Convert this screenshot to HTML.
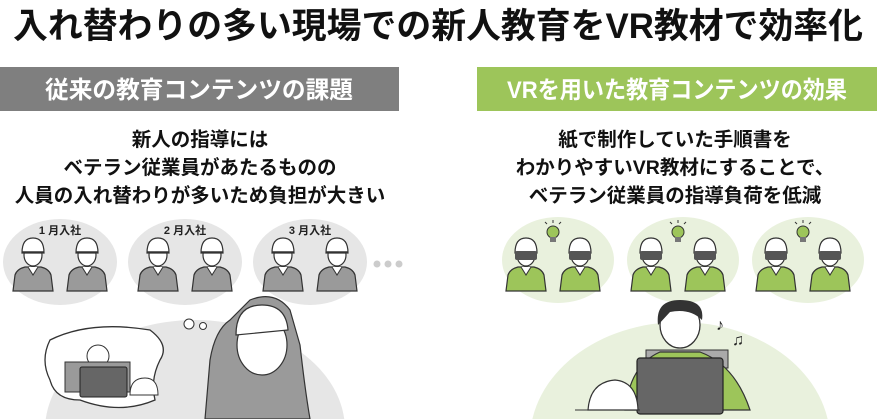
<!DOCTYPE html>
<html><head><meta charset="utf-8"><style>
html,body{margin:0;padding:0;background:#fff;width:877px;height:419px;overflow:hidden}
svg{display:block}
text{font-family:"Liberation Sans","Noto Sans CJK JP",sans-serif;font-weight:bold}
</style></head><body>
<svg width="877" height="419" viewBox="0 0 877 419" xmlns="http://www.w3.org/2000/svg">
<defs>
<g id="pg">
 <path d="M-20,36 L-18,20 Q-16,14 -8,12 L8,12 Q16,14 18,20 L20,36 Z" fill="#9a9a9a" stroke="#333" stroke-width="1.2"/>
 <path d="M-5,12 L0,20 L5,12" fill="#fff" stroke="#333" stroke-width="1"/>
 <ellipse cx="0" cy="0" rx="9" ry="11" fill="#fff" stroke="#333" stroke-width="1.2"/>
 <path d="M-11,-2 Q-11,-17 0,-17 Q11,-17 11,-2 Z" fill="#fff" stroke="#333" stroke-width="1.2"/>
 <line x1="-11" y1="-3" x2="11" y2="-3" stroke="#333" stroke-width="1.5"/>
</g>
<g id="pv">
 <path d="M-20,36 L-18,20 Q-16,14 -8,12 L8,12 Q16,14 18,20 L20,36 Z" fill="#9dc55a" stroke="#333" stroke-width="1.2"/>
 <path d="M-5,12 L0,20 L5,12" fill="#fff" stroke="#333" stroke-width="1"/>
 <ellipse cx="0" cy="0" rx="9" ry="11" fill="#fff" stroke="#333" stroke-width="1.2"/>
 <path d="M-11,-2 Q-11,-17 0,-17 Q11,-17 11,-2 Z" fill="#fff" stroke="#333" stroke-width="1.2"/>
 <rect x="-11" y="-4" width="22" height="9" rx="2" fill="#555"/>
</g>
<g id="bulb">
 <circle cx="0" cy="0" r="6" fill="#9dc55a" stroke="#333" stroke-width="1"/>
 <rect x="-3" y="5" width="6" height="5" fill="#777"/>
 <line x1="0" y1="-9" x2="0" y2="-12" stroke="#333"/>
 <line x1="-6" y1="-8" x2="-8" y2="-10" stroke="#333"/>
 <line x1="6" y1="-8" x2="8" y2="-10" stroke="#333"/>
</g>
</defs>
<text x="438" y="38" font-size="35" text-anchor="middle" textLength="850" lengthAdjust="spacingAndGlyphs" fill="#111">入れ替わりの多い現場での新人教育をVR教材で効率化</text>

<rect x="0" y="67" width="399" height="44" fill="#7f7f7f"/>
<text x="199" y="98" font-size="24" fill="#fff" text-anchor="middle" textLength="308" lengthAdjust="spacingAndGlyphs">従来の教育コンテンツの課題</text>
<rect x="477" y="67" width="400" height="44" fill="#9dc55a"/>
<text x="677" y="98" font-size="24" fill="#fff" text-anchor="middle" textLength="340" lengthAdjust="spacingAndGlyphs">VRを用いた教育コンテンツの効果</text>

<g font-size="19.5" fill="#111" text-anchor="middle">
<text x="200" y="146">新人の指導には</text>
<text x="200" y="174">ベテラン従業員があたるものの</text>
<text x="200" y="202">人員の入れ替わりが多いため負担が大きい</text>
<text x="675" y="146">紙で制作していた手順書を</text>
<text x="675" y="174">わかりやすいVR教材にすることで、</text>
<text x="675" y="202">ベテラン従業員の指導負荷を低減</text>
</g>

<g fill="#e6e6e6">
<ellipse cx="60" cy="262" rx="57" ry="43"/>
<ellipse cx="185" cy="262" rx="57" ry="43"/>
<ellipse cx="310" cy="262" rx="57" ry="43"/>
</g>
<g font-size="11" fill="#222" text-anchor="middle">
<text x="60" y="234">1 月入社</text>
<text x="185" y="234">2 月入社</text>
<text x="310" y="234">3 月入社</text>
</g>
<use href="#pg" x="33" y="255"/><use href="#pg" x="87" y="255"/>
<use href="#pg" x="158" y="255"/><use href="#pg" x="212" y="255"/>
<use href="#pg" x="283" y="255"/><use href="#pg" x="337" y="255"/>
<g fill="#ccc"><circle cx="377" cy="264" r="3.5"/><circle cx="388" cy="264" r="3.5"/><circle cx="399" cy="264" r="3.5"/></g>

<ellipse cx="195" cy="430" rx="150" ry="110" fill="#e6e6e6"/>
<path d="M50,340 Q90,320 150,330 Q170,345 160,360 Q150,380 155,400 Q120,415 80,400 Q55,400 50,380 Q40,360 50,340 Z" fill="#fff" stroke="#333" stroke-width="1.3"/>
<circle cx="189" cy="324" r="5" fill="#fff" stroke="#333"/><circle cx="203" cy="326" r="3.5" fill="#fff" stroke="#333"/>
<circle cx="98" cy="356" r="11" fill="#fff" stroke="#333"/>
<rect x="65" y="362" width="65" height="30" fill="#9a9a9a" stroke="#333"/>
<rect x="80" y="367" width="47" height="30" rx="2" fill="#666" stroke="#222"/>
<path d="M130,395 Q130,378 145,378 Q158,378 158,395 Z" fill="#fff" stroke="#333"/>
<path d="M205,419 L210,360 Q215,330 230,320 L250,300 Q275,290 290,310 L300,345 Q305,390 310,419 Z" fill="#9a9a9a" stroke="#333" stroke-width="1.2"/>
<ellipse cx="262" cy="345" rx="25" ry="30" fill="#fff" stroke="#333" stroke-width="1.2"/>
<path d="M236,335 Q236,305 262,305 Q286,305 288,330 Z" fill="#fff" stroke="#333" stroke-width="1.2"/>

<g fill="#e9f1dd">
<ellipse cx="558" cy="260" rx="56" ry="43"/>
<ellipse cx="683" cy="260" rx="56" ry="43"/>
<ellipse cx="808" cy="260" rx="56" ry="43"/>
<ellipse cx="680" cy="440" rx="150" ry="118"/>
</g>
<use href="#bulb" x="553" y="232"/><use href="#bulb" x="678" y="232"/><use href="#bulb" x="803" y="232"/>
<use href="#pv" x="526" y="255"/><use href="#pv" x="580" y="255"/>
<use href="#pv" x="651" y="255"/><use href="#pv" x="705" y="255"/>
<use href="#pv" x="776" y="255"/><use href="#pv" x="830" y="255"/>

<rect x="646" y="350" width="82" height="18" fill="#aaa" stroke="#333"/>
<path d="M625,410 Q630,365 660,352 L700,352 Q735,365 750,410 Z" fill="#9dc55a" stroke="#333" stroke-width="1.2"/>
<ellipse cx="680" cy="325" rx="20" ry="23" fill="#fff" stroke="#333" stroke-width="1.3"/>
<path d="M658,325 Q655,300 680,300 Q705,300 702,320 Q690,308 670,312 Z" fill="#333"/>
<rect x="637" y="358" width="86" height="56" rx="3" fill="#666" stroke="#222" stroke-width="1.2"/>
<path d="M588,410 Q590,382 615,380 Q637,382 638,410 Z" fill="#fff" stroke="#333" stroke-width="1.2"/>
<line x1="575" y1="410" x2="640" y2="410" stroke="#333"/>
<text x="716" y="330" font-size="16" fill="#222">♪</text>
<text x="732" y="345" font-size="16" fill="#222">♫</text>
</svg>
</body></html>
